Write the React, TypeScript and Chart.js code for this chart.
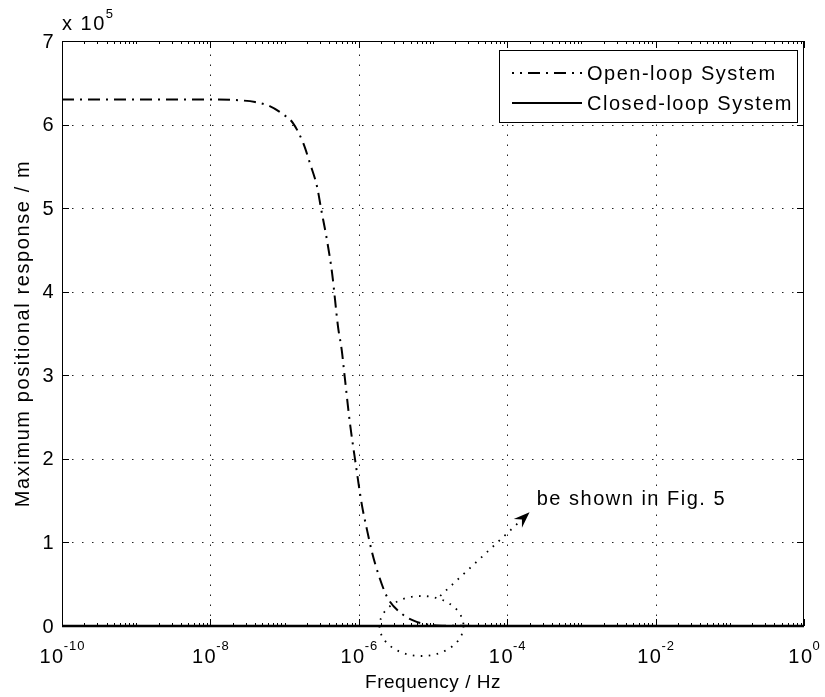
import React, { useEffect, useRef } from "react";
import { Chart, registerables } from "chart.js";

Chart.register(...registerables);

// ---- data ----
const openLoopFreq = [
  1e-10, 1e-8, 2.5e-8, 4e-8, 6.3e-8, 1e-7, 1.29e-7, 1.78e-7, 2.19e-7, 2.75e-7,
  3.09e-7, 3.72e-7, 4.37e-7, 5.25e-7, 5.89e-7, 6.46e-7, 7.59e-7, 8.91e-7,
  1.1e-6, 1.29e-6, 1.51e-6, 1.82e-6, 2.4e-6, 3.63e-6, 6.03e-6, 1e-5, 1.58e-5,
  1e-4, 1e-2, 1,
];
const openLoopValue = [
  6.3e5, 6.3e5, 6.29e5, 6.27e5, 6.22e5, 6.11e5, 6.02e5, 5.78e5, 5.54e5, 5.25e5,
  5.0e5, 4.62e5, 4.22e5, 3.58e5, 3.3e5, 2.98e5, 2.43e5, 1.99e5,
  1.45e5, 1.15e5, 0.88e5, 0.63e5, 0.35e5, 0.16e5, 0.05e5, 0.01e5, 0.003e5,
  0.0005e5, 0, 0,
];
const closedLoopFreq = [1e-10, 1e-6, 1e-5, 1e-4, 1];
const closedLoopValue = [0, 0, 0, 0, 0];

const xTickExponents = [-10, -8, -6, -4, -2, 0];
const yTickValues = [0, 1, 2, 3, 4, 5, 6, 7];
const yMultiplierExp = 5;

const seriesNames = ["Open-loop System", "Closed-loop System"];
const xTitle = "Frequency / Hz";
const yTitle = "Maximum positional response / m";
const noteText = "be shown in Fig. 5";
// annotation anchors (data coordinates)
const ellipseCenter = { f: 7e-6, v: 0 };
const arrowFrom = { f: 1.25e-5, v: 0.36e5 };
const arrowTo = { f: 2.0e-4, v: 1.36e5 };
const noteAnchor = { f: 2.5e-4, v: 1.51e5 };

const FONT = '"Liberation Sans", Arial, Helvetica, sans-serif';
const DASHDOT = [12, 6, 2, 6];

function setFont(ctx: CanvasRenderingContext2D, size: number, spacing = 1.5) {
  ctx.font = `${size}px ${FONT}`;
  (ctx as any).letterSpacing = `${spacing}px`;
}

const drawPlugin = {
  id: "matlabStyle",
  beforeDatasetsDraw(chart: any) {
    const { ctx, chartArea: a, scales } = chart;
    const xs = scales.x, ys = scales.y;
    ctx.save();
    ctx.strokeStyle = "#222";
    ctx.lineWidth = 1;
    ctx.setLineDash([1.5, 8.5]);
    for (const e of xTickExponents) {
      const x = Math.round(xs.getPixelForValue(Math.pow(10, e))) + 0.5;
      if (x <= a.left + 2 || x >= a.right - 2) continue;
      ctx.beginPath();
      ctx.moveTo(x, a.bottom);
      ctx.lineTo(x, a.top);
      ctx.stroke();
    }
    for (const t of yTickValues) {
      const y = Math.round(ys.getPixelForValue(t * Math.pow(10, yMultiplierExp))) + 0.5;
      if (y <= a.top + 2 || y >= a.bottom - 2) continue;
      ctx.beginPath();
      ctx.moveTo(a.left, y);
      ctx.lineTo(a.right, y);
      ctx.stroke();
    }
    ctx.restore();
  },
  afterDatasetsDraw(chart: any) {
    const { ctx, chartArea: a, scales } = chart;
    const xs = scales.x, ys = scales.y;
    ctx.save();
    ctx.setLineDash([]);
    ctx.strokeStyle = "#000";
    ctx.fillStyle = "#000";
    ctx.lineWidth = 1;
    // box
    ctx.strokeRect(Math.round(a.left) + 0.5, Math.round(a.top) + 0.5,
      Math.round(a.right - a.left) - 1, Math.round(a.bottom - a.top) - 1);
    // x ticks
    const minE = xTickExponents[0], maxE = xTickExponents[xTickExponents.length - 1];
    ctx.beginPath();
    for (let e = minE; e < maxE; e++) {
      for (let m = 1; m < 10; m++) {
        const v = m * Math.pow(10, e);
        const x = Math.round(xs.getPixelForValue(v)) + 0.5;
        const major = m === 1 && xTickExponents.includes(e);
        if (major) continue;
        const len = 3;
        ctx.moveTo(x, a.bottom); ctx.lineTo(x, a.bottom - len);
        ctx.moveTo(x, a.top); ctx.lineTo(x, a.top + len);
      }
    }
    for (const e of xTickExponents) {
      const x = Math.round(xs.getPixelForValue(Math.pow(10, e))) + 0.5;
      ctx.moveTo(x, a.bottom); ctx.lineTo(x, a.bottom - 7);
      ctx.moveTo(x, a.top); ctx.lineTo(x, a.top + 7);
    }
    for (const t of yTickValues) {
      const y = Math.round(ys.getPixelForValue(t * Math.pow(10, yMultiplierExp))) + 0.5;
      ctx.moveTo(a.left, y); ctx.lineTo(a.left + 7, y);
      ctx.moveTo(a.right, y); ctx.lineTo(a.right - 7, y);
    }
    ctx.stroke();

    // x tick labels 10^e
    ctx.textBaseline = "alphabetic";
    ctx.textAlign = "left";
    for (const e of xTickExponents) {
      const x = xs.getPixelForValue(Math.pow(10, e));
      setFont(ctx, 20, 1.5);
      const wb = ctx.measureText("10").width;
      setFont(ctx, 13, 1);
      const we = ctx.measureText(String(e)).width;
      const left = x - (wb + we) / 2 + 1;
      setFont(ctx, 20, 1.5);
      ctx.fillText("10", left, a.bottom + 37);
      setFont(ctx, 13, 1);
      ctx.fillText(String(e), left + wb - 1, a.bottom + 24);
    }
    // y tick labels
    setFont(ctx, 20, 1.5);
    ctx.textAlign = "right";
    ctx.textBaseline = "middle";
    for (const t of yTickValues) {
      const y = ys.getPixelForValue(t * Math.pow(10, yMultiplierExp));
      ctx.fillText(String(t), a.left - 7, y + 1);
    }
    // multiplier x 10^5
    ctx.textAlign = "left";
    ctx.textBaseline = "alphabetic";
    setFont(ctx, 20, 1.5);
    ctx.fillText("x 10", a.left, a.top - 11);
    const wm = ctx.measureText("x 10").width;
    setFont(ctx, 13, 1);
    ctx.fillText(String(yMultiplierExp), a.left + wm, a.top - 23);

    // axis titles
    ctx.textAlign = "center";
    ctx.textBaseline = "alphabetic";
    setFont(ctx, 19, 0.5);
    ctx.fillText(xTitle, (a.left + a.right) / 2, a.bottom + 62);
    setFont(ctx, 20, 1.6);
    ctx.save();
    ctx.translate(29, (a.top + a.bottom) / 2);
    ctx.rotate(-Math.PI / 2);
    ctx.textBaseline = "alphabetic";
    ctx.fillText(yTitle, 0, 0);
    ctx.restore();

    // annotation ellipse
    const cx = xs.getPixelForValue(ellipseCenter.f);
    const cy = ys.getPixelForValue(ellipseCenter.v);
    ctx.save();
    ctx.lineWidth = 1.8;
    ctx.setLineDash([1.6, 6.4]);
    ctx.beginPath();
    ctx.ellipse(cx, cy, 42, 30, 0, 0, Math.PI * 2);
    ctx.stroke();
    // arrow
    const x1 = xs.getPixelForValue(arrowFrom.f), y1 = ys.getPixelForValue(arrowFrom.v);
    const x2 = xs.getPixelForValue(arrowTo.f), y2 = ys.getPixelForValue(arrowTo.v);
    const ang = Math.atan2(y2 - y1, x2 - x1);
    const hl = 16, hw = 6;
    ctx.beginPath();
    ctx.moveTo(x1, y1);
    ctx.lineTo(x2 - hl * 0.7 * Math.cos(ang), y2 - hl * 0.7 * Math.sin(ang));
    ctx.stroke();
    ctx.setLineDash([]);
    const bx = x2 - hl * Math.cos(ang), by = y2 - hl * Math.sin(ang);
    const nx = -Math.sin(ang), ny = Math.cos(ang);
    const ix = x2 - hl * 0.65 * Math.cos(ang), iy = y2 - hl * 0.65 * Math.sin(ang);
    ctx.beginPath();
    ctx.moveTo(x2, y2);
    ctx.lineTo(bx + nx * hw, by + ny * hw);
    ctx.lineTo(ix, iy);
    ctx.lineTo(bx - nx * hw, by - ny * hw);
    ctx.closePath();
    ctx.fill();
    ctx.restore();
    // note text
    setFont(ctx, 20, 1.5);
    ctx.textAlign = "left";
    ctx.textBaseline = "middle";
    ctx.fillText(noteText, xs.getPixelForValue(noteAnchor.f), ys.getPixelForValue(noteAnchor.v));

    // legend
    const lx = 499.5, ly = 50.5, lw = 298, lh = 72;
    ctx.fillStyle = "#fff";
    ctx.fillRect(lx, ly, lw, lh);
    ctx.strokeStyle = "#000";
    ctx.lineWidth = 1;
    ctx.strokeRect(lx, ly, lw, lh);
    const rows = [73, 103];
    const styles = [DASHDOT, []];
    for (let i = 0; i < seriesNames.length; i++) {
      ctx.save();
      ctx.lineWidth = 2;
      ctx.setLineDash(styles[i]);
      ctx.lineDashOffset = i === 0 ? 10 : 0;
      ctx.beginPath();
      ctx.moveTo(512, rows[i]);
      ctx.lineTo(582, rows[i]);
      ctx.stroke();
      ctx.restore();
      ctx.fillStyle = "#000";
      setFont(ctx, 20, 1.5);
      ctx.textAlign = "left";
      ctx.textBaseline = "middle";
      ctx.fillText(seriesNames[i], 587, rows[i] + 1);
    }
    ctx.restore();
  },
};

export default function App() {
  const ref = useRef<HTMLCanvasElement>(null);
  useEffect(() => {
    if (!ref.current) return;
    const chart = new Chart(ref.current, {
      type: "line",
      data: {
        datasets: [
          {
            label: seriesNames[0],
            data: openLoopFreq.map((f, i) => ({ x: f, y: openLoopValue[i] })),
            borderColor: "#000",
            borderWidth: 2,
            borderDash: DASHDOT,
            pointRadius: 0,
            cubicInterpolationMode: "monotone",
            fill: false,
          },
          {
            label: seriesNames[1],
            data: closedLoopFreq.map((f, i) => ({ x: f, y: closedLoopValue[i] })),
            borderColor: "#000",
            borderWidth: 2.5,
            pointRadius: 0,
            fill: false,
            clip: false,
          } as any,
        ],
      },
      options: {
        animation: false,
        responsive: false,
        maintainAspectRatio: false,
        devicePixelRatio: 1,
        layout: { padding: { top: 41, right: 21, left: 0, bottom: 0 } },
        plugins: { legend: { display: false }, tooltip: { enabled: false }, title: { display: false } },
        scales: {
          x: {
            type: "logarithmic",
            min: 1e-10,
            max: 1,
            ticks: { display: false },
            grid: { display: false },
            border: { display: false },
            afterFit: (s: any) => { s.height = 71; },
          },
          y: {
            type: "linear",
            min: 0,
            max: 7e5,
            ticks: { display: false },
            grid: { display: false },
            border: { display: false },
            afterFit: (s: any) => { s.width = 62; },
          },
        },
      } as any,
      plugins: [drawPlugin],
    });
    return () => chart.destroy();
  }, []);
  return (
    <div style={{ position: "fixed", left: 0, top: 0, width: 825, height: 697, background: "#fff" }}>
      <canvas ref={ref} width={825} height={697} style={{ width: 825, height: 697, display: "block" }} />
    </div>
  );
}
